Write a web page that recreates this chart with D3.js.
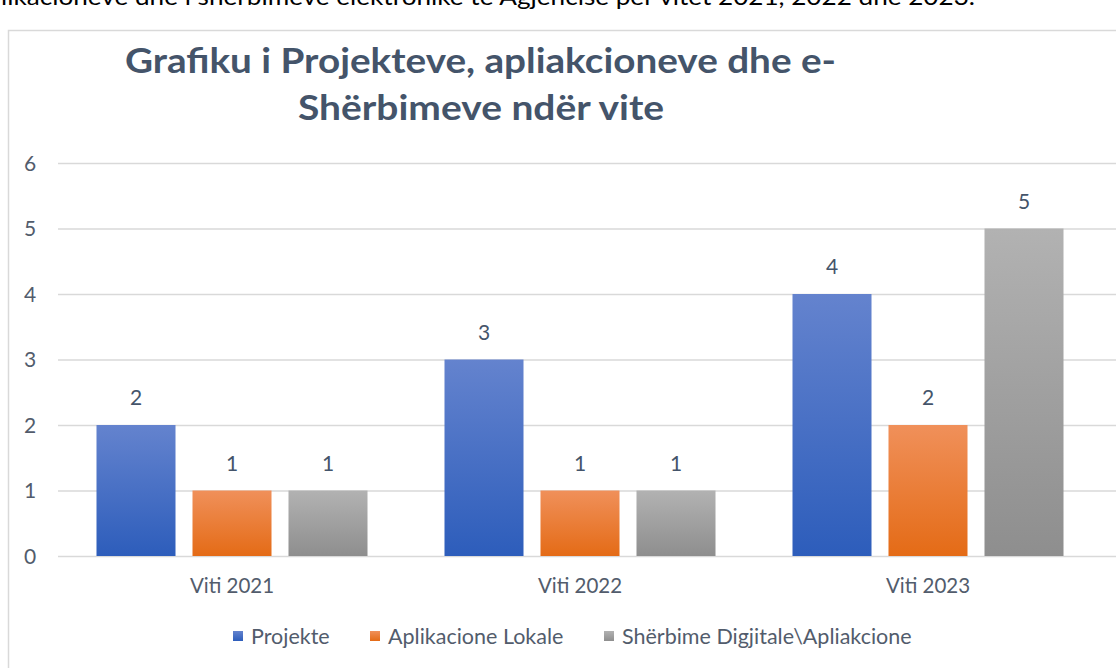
<!DOCTYPE html>
<html>
<head>
<meta charset="utf-8">
<script src="https://cdn.jsdelivr.net/npm/d3@7"></script>
<style>
  body { margin: 0; background: #fff; overflow: hidden; }
  svg { display: block; font-family: Lato, "Open Sans", sans-serif; }
</style>
</head>
<body>
<script>
'use strict';

let categories = ['Viti 2021', 'Viti 2022', 'Viti 2023'];
let series = ['Projekte', 'Aplikacione Lokale', 'Shërbime Digjitale\\Apliakcione'];
let projekte = [2, 3, 4];
let aplikacione = [1, 1, 2];
let sherbime = [1, 1, 5];
let yTicks = [0, 1, 2, 3, 4, 5, 6];
let titleLines = ['Grafiku i Projekteve, apliakcioneve dhe e-', 'Shërbimeve ndër vite'];
let caption = 'likacioneve dhe i shërbimeve elektronike të Agjencisë për vitet 2021, 2022 dhe 2023.';

let width = 1116;
let height = 668;
let textColor = '#525C6C';

let values = [projekte, aplikacione, sherbime];
let gradients = [
  ['#6483CE', '#2D5DBB'],
  ['#F0905A', '#E46B16'],
  ['#B2B2B2', '#8E8E8E']
];

let svg = d3.select('body').append('svg')
    .attr('width', width)
    .attr('height', height);

let defs = svg.append('defs');
gradients.forEach(function(g, i) {
  let lg = defs.append('linearGradient')
      .attr('id', 'grad' + i)
      .attr('x1', 0).attr('y1', 0).attr('x2', 0).attr('y2', 1);
  lg.append('stop').attr('offset', '0%').attr('stop-color', g[0]);
  lg.append('stop').attr('offset', '100%').attr('stop-color', g[1]);
});

// cut-off line of document text above the chart
svg.append('text')
    .attr('x', 1)
    .attr('y', 5)
    .attr('textLength', 974)
    .attr('lengthAdjust', 'spacingAndGlyphs')
    .style('font-size', '23px')
    .style('fill', '#000')
    .text(caption);

// chart frame
svg.append('path')
    .attr('d', 'M8.5,' + height + 'V30.5H' + width)
    .attr('fill', 'none')
    .attr('stroke', '#D9D9D9')
    .attr('stroke-width', 1.5);

// title
let title = svg.append('g')
    .style('font-weight', 'bold')
    .style('fill', '#44546A')
    .style('font-size', '34px');
title.append('text')
    .attr('x', 125).attr('y', 73)
    .attr('textLength', 711).attr('lengthAdjust', 'spacingAndGlyphs')
    .text(titleLines[0]);
title.append('text')
    .attr('x', 298).attr('y', 120)
    .attr('textLength', 366).attr('lengthAdjust', 'spacingAndGlyphs')
    .text(titleLines[1]);

let x0 = d3.scaleBand()
    .domain(categories)
    .range([58, 1102]);

let x1 = d3.scaleBand()
    .domain(d3.range(series.length))
    .range([0, x0.bandwidth()])
    .paddingInner(0.177)
    .paddingOuter(0.401);

let y = d3.scaleLinear()
    .domain([0, 6])
    .range([556, 163]);

// gridlines + y labels
let yAxis = svg.append('g')
    .call(d3.axisLeft(y).tickValues(yTicks).tickFormat(d3.format('d')).tickSize(0).tickPadding(0));
yAxis.select('.domain').remove();
yAxis.selectAll('.tick line')
    .attr('x1', 58).attr('x2', width)
    .attr('stroke', '#D9D9D9')
    .attr('stroke-width', 1.3);
yAxis.selectAll('.tick text')
    .attr('x', 30)
    .attr('dy', '0.35em')
    .attr('text-anchor', 'middle')
    .style('font-size', '21px')
    .style('font-family', 'Lato, sans-serif')
    .style('fill', textColor);

// bars
let groups = svg.selectAll('g.cat')
  .data(categories)
  .enter().append('g')
    .attr('class', 'cat')
    .attr('transform', function(d) { return 'translate(' + x0(d) + ',0)'; });

let cells = function(d, ci) {
  return values.map(function(v, si) { return { s: si, v: v[ci] }; });
};

groups.selectAll('rect')
  .data(cells)
  .enter().append('rect')
    .attr('x', function(d) { return x1(d.s); })
    .attr('y', function(d) { return y(d.v); })
    .attr('width', x1.bandwidth())
    .attr('height', function(d) { return y(0) - y(d.v); })
    .attr('fill', function(d) { return 'url(#grad' + d.s + ')'; });

groups.selectAll('text.val')
  .data(cells)
  .enter().append('text')
    .attr('class', 'val')
    .attr('x', function(d) { return x1(d.s) + x1.bandwidth() / 2; })
    .attr('y', function(d) { return y(d.v) - 20; })
    .attr('text-anchor', 'middle')
    .style('font-size', '21px')
    .style('fill', '#44546A')
    .text(function(d) { return d.v; });

// x labels
let xAxis = svg.append('g')
    .attr('transform', 'translate(0,556)')
    .call(d3.axisBottom(x0).tickSize(0).tickPadding(0));
xAxis.select('.domain').remove();
xAxis.selectAll('.tick text')
    .attr('y', 37)
    .attr('dy', 0)
    .style('font-size', '20.5px')
    .style('font-family', 'Lato, sans-serif')
    .style('fill', textColor);

// legend
let legendX = [233, 370, 604];
let legend = svg.append('g');
series.forEach(function(s, i) {
  legend.append('rect')
      .attr('x', legendX[i]).attr('y', 631)
      .attr('width', 10).attr('height', 10)
      .attr('fill', 'url(#grad' + i + ')');
  legend.append('text')
      .attr('x', legendX[i] + 18).attr('y', 644)
      .style('font-size', '21.5px')
      .style('fill', textColor)
      .text(s);
});
</script>
</body>
</html>
